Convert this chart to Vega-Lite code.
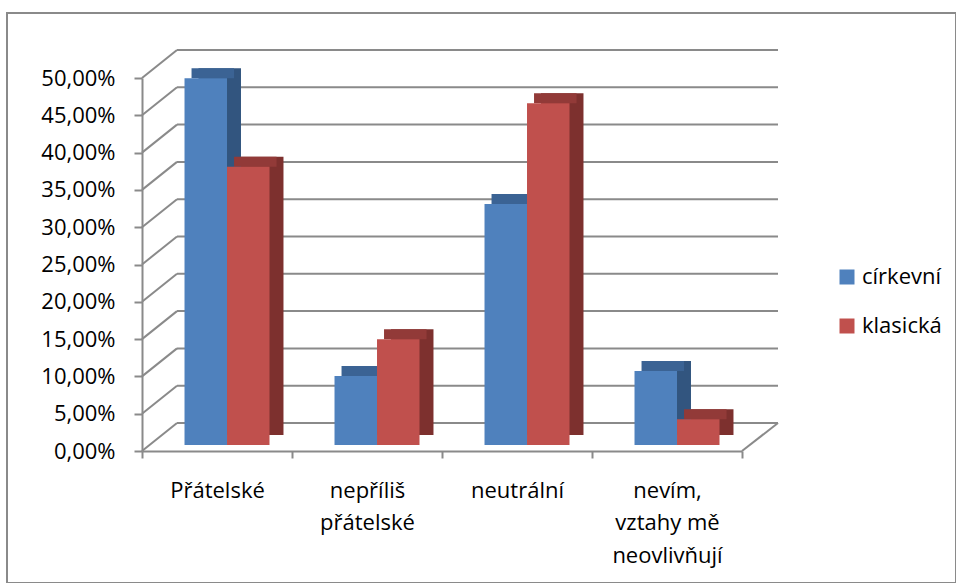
{
  "$schema": "https://vega.github.io/schema/vega-lite/v6.json",
  "width": 949,
  "height": 570,
  "autosize": {"type": "none"},
  "padding": {"left": 7, "top": 13, "right": 0, "bottom": 0},
  "background": "white",
  "config": {
    "font": "Open Sans",
    "view": {"stroke": "#8a8a8a", "strokeWidth": 2}
  },
  "datasets": {
    "bars": [
      {"cat": "Přátelské", "series": "církevní", "value": 0.4915},
      {"cat": "Přátelské", "series": "klasická", "value": 0.373},
      {"cat": "nepříliš přátelské", "series": "církevní", "value": 0.0925},
      {"cat": "nepříliš přátelské", "series": "klasická", "value": 0.1417},
      {"cat": "neutrální", "series": "církevní", "value": 0.323},
      {"cat": "neutrální", "series": "klasická", "value": 0.458},
      {"cat": "nevím, vztahy mě neovlivňují", "series": "církevní", "value": 0.0992},
      {"cat": "nevím, vztahy mě neovlivňují", "series": "klasická", "value": 0.0344}
    ],
    "grid": [
      {"v": 0}, {"v": 0.05}, {"v": 0.1}, {"v": 0.15}, {"v": 0.2}, {"v": 0.25},
      {"v": 0.3}, {"v": 0.35}, {"v": 0.4}, {"v": 0.45}, {"v": 0.5}
    ]
  },
  "resolve": {"scale": {"xOffset": "independent"}},
  "layer": [
    {
      "data": {"name": "grid"},
      "mark": {"type": "rule", "color": "#8a8a8a", "strokeWidth": 2, "x2Offset": 35, "y2Offset": -28},
      "encoding": {
        "x": {"datum": "Přátelské", "type": "nominal", "bandPosition": 0},
        "x2": {"datum": "Přátelské", "bandPosition": 0},
        "y": {"field": "v", "type": "quantitative"},
        "y2": {"field": "v"}
      }
    },
    {
      "data": {"name": "grid"},
      "mark": {"type": "rule", "color": "#8a8a8a", "strokeWidth": 2, "xOffset": 35, "x2Offset": 36, "yOffset": -28},
      "encoding": {
        "x": {"datum": "Přátelské", "type": "nominal", "bandPosition": 0},
        "x2": {"datum": "nevím, vztahy mě neovlivňují", "bandPosition": 1},
        "y": {"field": "v", "type": "quantitative"}
      }
    },
    {
      "data": {"name": "grid"},
      "transform": [{"filter": "datum.v == 0"}],
      "mark": {"type": "rule", "color": "#8a8a8a", "strokeWidth": 2, "x2Offset": 36, "y2Offset": -28},
      "encoding": {
        "x": {"datum": "nevím, vztahy mě neovlivňují", "type": "nominal", "bandPosition": 1},
        "x2": {"datum": "nevím, vztahy mě neovlivňují", "bandPosition": 1},
        "y": {"field": "v", "type": "quantitative"},
        "y2": {"field": "v"}
      }
    },
    {
      "data": {"name": "bars"},
      "mark": {"type": "bar", "yOffset": -16, "y2Offset": -16},
      "encoding": {
        "x": {"field": "cat", "type": "nominal"},
        "xOffset": {
          "field": "series",
          "type": "nominal",
          "scale": {"domain": ["církevní", "klasická"], "paddingInner": 0, "paddingOuter": 0.765, "align": 0.869}
        },
        "y": {"field": "value", "type": "quantitative"},
        "color": {"condition": {"test": "datum.series === 'církevní'", "value": "#32557f"}, "value": "#7d302e"}
      }
    },
    {
      "data": {"name": "bars"},
      "mark": {"type": "bar", "yOffset": -16, "y2Offset": -6},
      "encoding": {
        "x": {"field": "cat", "type": "nominal"},
        "xOffset": {
          "field": "series",
          "type": "nominal",
          "scale": {"domain": ["církevní", "klasická"], "paddingInner": 0, "paddingOuter": 0.765, "align": 0.762}
        },
        "y": {"field": "value", "type": "quantitative"},
        "y2": {"field": "value"},
        "color": {"condition": {"test": "datum.series === 'církevní'", "value": "#3b6394"}, "value": "#923a38"}
      }
    },
    {
      "data": {"name": "bars"},
      "mark": {"type": "bar", "yOffset": -6, "y2Offset": -6},
      "encoding": {
        "x": {
          "field": "cat",
          "type": "nominal",
          "scale": {
            "domain": ["Přátelské", "nepříliš přátelské", "neutrální", "nevím, vztahy mě neovlivňují"],
            "range": [135, 735],
            "paddingInner": 0,
            "paddingOuter": 0
          },
          "axis": {
            "orient": "bottom",
            "offset": -132,
            "title": null,
            "tickBand": "extent",
            "tickSize": 7,
            "tickWidth": 2,
            "tickColor": "#8a8a8a",
            "domainColor": "#8a8a8a",
            "domainWidth": 2,
            "labelAngle": 0,
            "labelAlign": "center",
            "labelFont": "Open Sans",
            "labelFontSize": 22,
            "labelColor": "#000000",
            "labelPadding": 22,
            "labelLineHeight": 32.5,
            "labelBaseline": "top",
            "labelExpr": "datum.value == 'nepříliš přátelské' ? ['nepříliš', 'přátelské'] : datum.value == 'nevím, vztahy mě neovlivňují' ? ['nevím,', 'vztahy mě', 'neovlivňují'] : datum.value"
          }
        },
        "xOffset": {
          "field": "series",
          "type": "nominal",
          "scale": {"domain": ["církevní", "klasická"], "paddingInner": 0, "paddingOuter": 0.765, "align": 0.654}
        },
        "y": {
          "field": "value",
          "type": "quantitative",
          "scale": {"domain": [0, 0.5], "range": [438, 65], "nice": false, "zero": true},
          "axis": {
            "offset": -135,
            "title": null,
            "grid": false,
            "values": [0, 0.05, 0.1, 0.15, 0.2, 0.25, 0.3, 0.35, 0.4, 0.45, 0.5],
            "labelExpr": "replace(format(datum.value, '.2%'), '.', ',')",
            "tickSize": 8,
            "tickWidth": 2,
            "tickColor": "#8a8a8a",
            "domainColor": "#8a8a8a",
            "domainWidth": 2,
            "labelFont": "Open Sans",
            "labelFontSize": 22,
            "labelColor": "#000000",
            "labelPadding": 19
          }
        },
        "color": {
          "field": "series",
          "type": "nominal",
          "scale": {"domain": ["církevní", "klasická"], "range": ["#4f81bd", "#c0504d"]},
          "legend": {
            "orient": "none",
            "legendX": 829,
            "legendY": 253,
            "title": null,
            "symbolType": "square",
            "symbolSize": 225,
            "symbolStrokeWidth": 0,
            "labelFont": "Open Sans",
            "labelFontSize": 22,
            "labelColor": "#000000",
            "labelOffset": 4,
            "rowPadding": 27
          }
        }
      }
    }
  ]
}
